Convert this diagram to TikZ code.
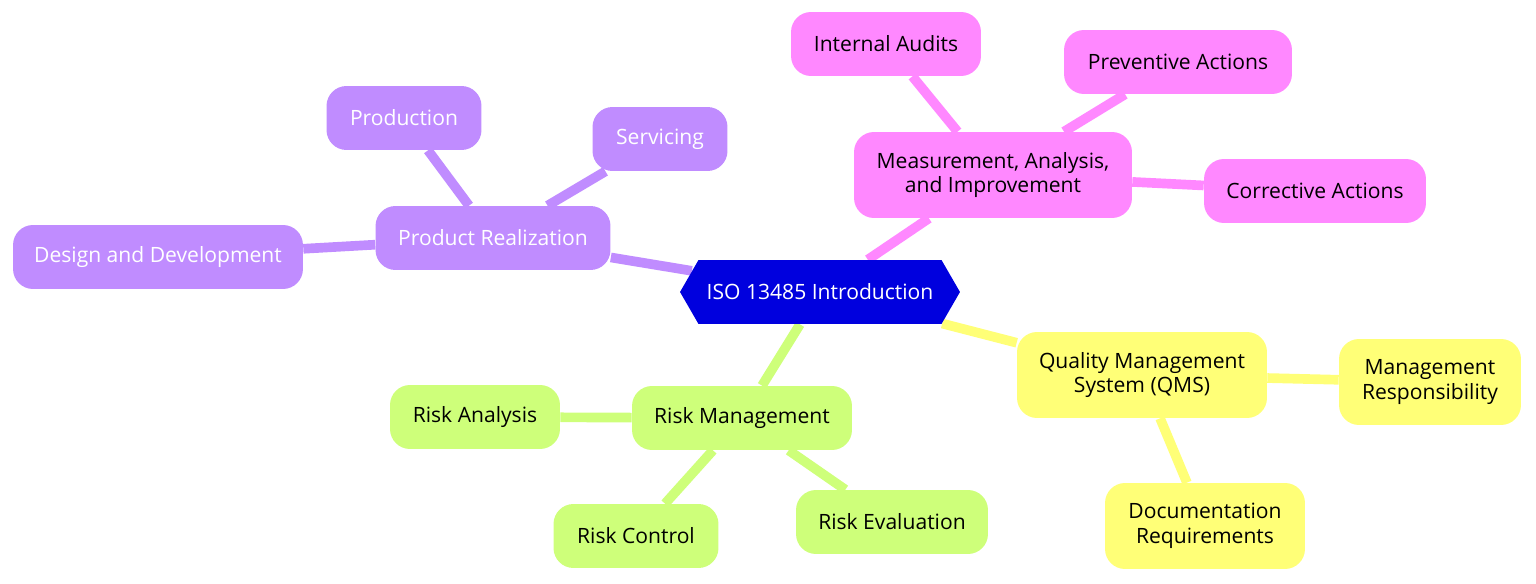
\documentclass[tikz,border=0pt]{standalone}
\usepackage{fontspec}
\setmainfont{Open Sans}
\usetikzlibrary{shapes.symbols,backgrounds}
\definecolor{rootblue}{RGB}{0,0,222}
\definecolor{prodpurple}{RGB}{192,140,255}
\definecolor{measpink}{RGB}{255,136,255}
\definecolor{qmsyellow}{RGB}{255,255,119}
\definecolor{riskgreen}{RGB}{206,255,122}
\tikzset{
  leaf/.style={rectangle, rounded corners=0.4cm, minimum height=1.28cm,
    align=center, font=\fontsize{12}{14}\selectfont, inner xsep=8pt},
  link/.style={line width=5.5pt},
}
\begin{document}
\begin{tikzpicture}[x=0.02cm,y=-0.02cm]
  \useasboundingbox (0,0) rectangle (1536,584);
  % root
  \node[signal, signal to=east and west, signal pointer angle=120, fill=rootblue,
    text=white, minimum width=5.6cm, minimum height=1.28cm,
    font=\fontsize{12}{14}\selectfont] (root) at (820,292) {ISO 13485 Introduction};
  % product realization
  \node[leaf, fill=prodpurple, text=white, minimum width=4.7cm] (prod) at (493,238) {Product Realization};
  \node[leaf, fill=prodpurple, text=white, minimum width=3.1cm] (pron) at (404,118) {Production};
  \node[leaf, fill=prodpurple, text=white, minimum width=2.7cm] (serv) at (660,139) {Servicing};
  \node[leaf, fill=prodpurple, text=white, minimum width=5.8cm] (desi) at (158,257) {Design and Development};
  % measurement
  \node[leaf, fill=measpink, minimum width=5.56cm, minimum height=1.72cm] (meas) at (993,175) {Measurement, Analysis,\\and Improvement};
  \node[leaf, fill=measpink, minimum width=3.8cm] (audi) at (886,44) {Internal Audits};
  \node[leaf, fill=measpink, minimum width=4.56cm] (prev) at (1178,62) {Preventive Actions};
  \node[leaf, fill=measpink, minimum width=4.44cm] (corr) at (1315,191) {Corrective Actions};
  % qms
  \node[leaf, fill=qmsyellow, minimum width=5cm, minimum height=1.72cm] (qms) at (1142,375) {Quality Management\\System (QMS)};
  \node[leaf, fill=qmsyellow, minimum width=3.64cm, minimum height=1.72cm] (mgmt) at (1430,382) {Management\\Responsibility};
  \node[leaf, fill=qmsyellow, minimum width=4cm, minimum height=1.72cm] (docu) at (1205,526) {Documentation\\Requirements};
  % risk
  \node[leaf, fill=riskgreen, minimum width=4.4cm] (risk) at (742,418) {Risk Management};
  \node[leaf, fill=riskgreen, minimum width=3.4cm] (rana) at (475,417) {Risk Analysis};
  \node[leaf, fill=riskgreen, minimum width=3.3cm] (rcon) at (636,536) {Risk Control};
  \node[leaf, fill=riskgreen, minimum width=3.84cm] (reva) at (892,522) {Risk Evaluation};
  \begin{scope}[on background layer]
    \draw[link, prodpurple] (root) -- (prod);
    \draw[link, prodpurple] (prod) -- (pron);
    \draw[link, prodpurple] (prod) -- (serv);
    \draw[link, prodpurple] (prod) -- (desi);
    \draw[link, measpink] (root) -- (meas);
    \draw[link, measpink] (meas) -- (audi);
    \draw[link, measpink] (meas) -- (prev);
    \draw[link, measpink] (meas) -- (corr);
    \draw[link, qmsyellow] (root) -- (qms);
    \draw[link, qmsyellow] (qms) -- (mgmt);
    \draw[link, qmsyellow] (qms) -- (docu);
    \draw[link, riskgreen] (root) -- (risk);
    \draw[link, riskgreen] (risk) -- (rana);
    \draw[link, riskgreen] (risk) -- (rcon);
    \draw[link, riskgreen] (risk) -- (reva);
  \end{scope}
\end{tikzpicture}
\end{document}
